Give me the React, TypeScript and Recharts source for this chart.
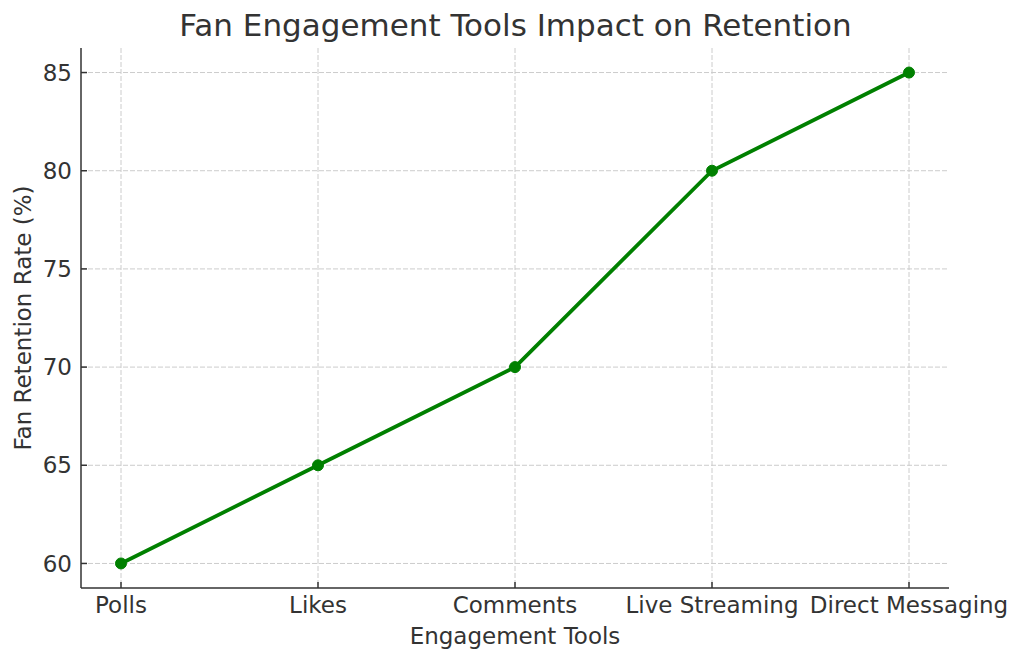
import { CartesianGrid, Label, Line, LineChart, XAxis, YAxis } from "recharts"

const tools = ["Polls", "Likes", "Comments", "Live Streaming", "Direct Messaging"]
const retention = [60, 65, 70, 80, 85]
const yTicks = [60, 65, 70, 75, 80, 85]

const font = "'DejaVu Sans', sans-serif"
const ink = "#333333"

const data = tools.map((t, i) => ({ tool: t, rate: retention[i] }))

export default function App() {
    return (
        <div style={{ position: "absolute", left: 0, top: 0, width: 1024, height: 663, background: "#fff", fontFamily: font }}>
            <div style={{ position: "absolute", left: 0, width: 1031, top: 7, textAlign: "center", fontSize: 31, color: ink, whiteSpace: "nowrap" }}>
                Fan Engagement Tools Impact on Retention
            </div>
            <LineChart
                width={1024}
                height={663}
                data={data}
                margin={{ top: 48, right: 75, bottom: 0, left: 0 }}
                style={{ position: "absolute", left: 0, top: 0 }}
            >
                <CartesianGrid stroke="#cccccc" strokeDasharray="5 2" syncWithTicks />
                <XAxis
                    dataKey="tool"
                    height={75}
                    padding={{ left: 40, right: 40 }}
                    tickSize={-6}
                    tickMargin={15}
                    stroke={ink}
                    strokeWidth={1.5}
                    tick={{ fill: ink, fontSize: 23, fontFamily: font }}
                    interval={0}
                >
                    <Label value="Engagement Tools" position="insideBottom" offset={19} fill={ink} fontSize={23} fontFamily={font} />
                </XAxis>
                <YAxis
                    width={81}
                    domain={[58.75, 86.25]}
                    ticks={yTicks}
                    tickSize={-6}
                    tickMargin={15}
                    stroke={ink}
                    strokeWidth={1.5}
                    tick={{ fill: ink, fontSize: 23, fontFamily: font }}
                >
                    <Label value="Fan Retention Rate (%)" angle={-90} position="center" dx={-18} fill={ink} fontSize={23} fontFamily={font} />
                </YAxis>
                <Line
                    type="linear"
                    dataKey="rate"
                    stroke="#008000"
                    strokeWidth={3.75}
                    dot={{ r: 5.5, fill: "#008000", stroke: "#008000", strokeWidth: 1 }}
                    activeDot={false}
                    isAnimationActive={false}
                />
            </LineChart>
        </div>
    )
}
